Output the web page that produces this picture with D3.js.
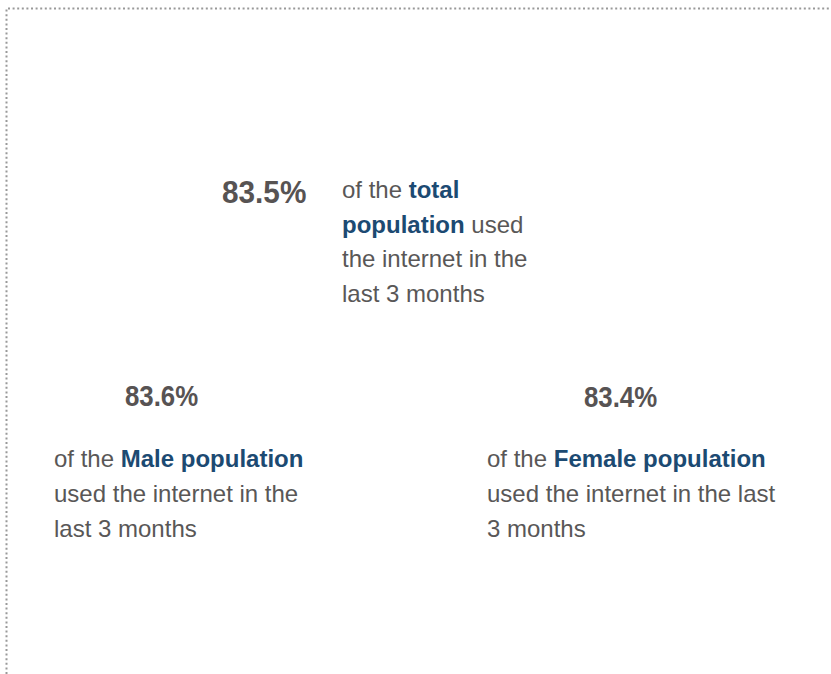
<!DOCTYPE html>
<html lang="en">
<head>
  <meta charset="UTF-8">
  <script src="https://d3js.org/d3.v7.min.js"></script>
  <style>
    body { margin: 0; background: #fff; }
    svg { display: block; }
    .num { font-family: "Liberation Sans", Arial, sans-serif; font-weight: bold; fill: #575353; }
    .txt { font-family: "Liberation Sans", Arial, sans-serif; font-size: 24px; fill: #595757; }
    .hl { font-weight: bold; fill: #1c4a72; }
    .frame { fill: none; stroke: #999; stroke-width: 2; stroke-dasharray: 2 2.6; }
  </style>
</head>
<body>
  <div id="chart"></div>
  <script>
    // share of population that used the internet in the last 3 months
    var groups = ["total", "Male", "Female"];
    var values = [83.5, 83.6, 83.4];

    // wrapped caption lines, {t: text, b: highlighted}
    var captions = [
      [[{t: "of the "}, {t: "total", b: true}],
       [{t: "population", b: true}, {t: " used"}],
       [{t: "the internet in the"}],
       [{t: "last 3 months"}]],
      [[{t: "of the "}, {t: "Male population", b: true}],
       [{t: "used the internet in the"}],
       [{t: "last 3 months"}]],
      [[{t: "of the "}, {t: "Female population", b: true}],
       [{t: "used the internet in the last"}],
       [{t: "3 months"}]]
    ];

    var width = 831, height = 674;
    var fmt = d3.format(".1f");

    // layout for each card: number box and caption box
    var layout = [
      {nx: 222, ny: 203, size: 32, sx: 0.93, cx: 342, cy: 198, lh: 34.5},
      {nx: 125, ny: 406, size: 29, sx: 0.89, cx: 54, cy: 466.5, lh: 35},
      {nx: 584, ny: 407, size: 29, sx: 0.89, cx: 487, cy: 466.5, lh: 35}
    ];

    var svg = d3.select("#chart").append("svg")
      .attr("width", width)
      .attr("height", height);

    // dotted frame (top and left edges)
    svg.append("path")
      .attr("class", "frame")
      .attr("d", d3.line()([[6.5, height], [6.5, 8.5], [width, 8.5]]));

    var cards = svg.selectAll(".card")
      .data(groups.map(function (g, i) {
        return {group: g, value: values[i], lines: captions[i], pos: layout[i]};
      }))
      .enter().append("g")
      .attr("class", "card");

    cards.append("text")
      .attr("class", "num")
      .attr("transform", function (d) {
        return "translate(" + d.pos.nx + "," + d.pos.ny + ") scale(" + d.pos.sx + ",1)";
      })
      .style("font-size", function (d) { return d.pos.size + "px"; })
      .text(function (d) { return fmt(d.value) + "%"; });

    var cap = cards.append("text")
      .attr("class", "txt")
      .attr("x", function (d) { return d.pos.cx; })
      .attr("y", function (d) { return d.pos.cy; });

    cap.selectAll("tspan.line")
      .data(function (d) {
        return d.lines.map(function (l, j) { return {segs: l, j: j, pos: d.pos}; });
      })
      .enter().append("tspan")
      .attr("class", "line")
      .attr("x", function (d) { return d.pos.cx; })
      .attr("y", function (d) { return d.pos.cy + d.j * d.pos.lh; })
      .selectAll("tspan")
      .data(function (d) { return d.segs; })
      .enter().append("tspan")
      .attr("class", function (d) { return d.b ? "hl" : null; })
      .style("white-space", "pre")
      .text(function (d) { return d.t; });
  </script>
</body>
</html>
